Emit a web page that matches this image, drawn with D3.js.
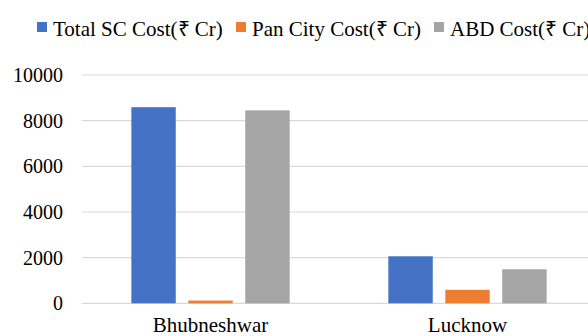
<!DOCTYPE html>
<html>
<head>
<meta charset="utf-8">
<script src="https://cdn.jsdelivr.net/npm/d3@7"></script>
<style>
  body { margin: 0; background: #fff; }
</style>
</head>
<body>
<div id="chart"></div>
<script>
// data
var cities = ["Bhubneshwar", "Lucknow"];
var seriesNames = ["Total SC Cost(₹ Cr)", "Pan City Cost(₹ Cr)", "ABD Cost(₹ Cr)"];
var totalCost = [8590, 2060];
var panCityCost = [120, 590];
var abdCost = [8450, 1490];
var yTicks = [0, 2000, 4000, 6000, 8000, 10000];
var colors = ["#4472c4", "#ed7d31", "#a5a5a5"];

var W = 588, H = 336;
var plot = { left: 82, right: 596, top: 75, bottom: 303.3 };
var serif = "'Liberation Serif', 'Times New Roman', serif";

var svg = d3.select("#chart")
    .append("svg")
    .attr("width", W)
    .attr("height", H)
    .attr("font-family", serif);

var rows = cities.map(function (c, i) {
    return { city: c, values: [totalCost[i], panCityCost[i], abdCost[i]] };
});

var x0 = d3.scaleBand()
    .domain(cities)
    .range([plot.left, plot.right])
    .padding(0);

var bw = x0.bandwidth();
var x1 = d3.scaleBand()
    .domain(seriesNames)
    .range([bw * 0.192, bw * 0.808])
    .paddingInner(0.22)
    .paddingOuter(0);

var y = d3.scaleLinear()
    .domain([0, 10000])
    .range([plot.bottom, plot.top]);

// gridlines
svg.append("g")
    .selectAll("line")
    .data(yTicks)
    .enter()
    .append("line")
    .attr("x1", plot.left)
    .attr("x2", W)
    .attr("y1", function (d) { return y(d); })
    .attr("y2", function (d) { return y(d); })
    .attr("stroke", "#d9d9d9")
    .attr("stroke-width", 1.2);

// y axis labels
var yAxis = svg.append("g")
    .attr("transform", "translate(" + plot.left + ",0)")
    .call(d3.axisLeft(y).tickValues(yTicks).tickSize(0).tickPadding(19).tickFormat(d3.format("d")));
yAxis.attr("font-family", serif).attr("font-size", 20);
yAxis.select(".domain").remove();
yAxis.selectAll("text")
    .style("font-family", serif)
    .style("font-size", "20px")
    .attr("fill", "#000");

// bars
var groups = svg.append("g")
    .selectAll("g")
    .data(rows)
    .enter()
    .append("g")
    .attr("transform", function (d) { return "translate(" + x0(d.city) + ",0)"; });

groups.selectAll("rect")
    .data(function (d) {
        return d.values.map(function (v, i) { return { key: seriesNames[i], value: v, i: i }; });
    })
    .enter()
    .append("rect")
    .attr("x", function (d) { return x1(d.key); })
    .attr("width", x1.bandwidth())
    .attr("y", function (d) { return y(d.value); })
    .attr("height", function (d) { return y(0) - y(d.value); })
    .attr("fill", function (d) { return colors[d.i]; });

// x axis labels
var xAxis = svg.append("g")
    .attr("transform", "translate(0," + plot.bottom + ")")
    .call(d3.axisBottom(x0).tickSize(0).tickPadding(14));
xAxis.attr("font-family", serif).attr("font-size", 21);
xAxis.select(".domain").remove();
xAxis.selectAll("text")
    .style("font-family", serif)
    .style("font-size", "21px")
    .attr("fill", "#000");

// legend
var legendX = [37, 236, 434];
var legend = svg.append("g")
    .selectAll("g")
    .data(seriesNames)
    .enter()
    .append("g")
    .attr("transform", function (d, i) { return "translate(" + legendX[i] + ",22)"; });

legend.append("rect")
    .attr("width", 10)
    .attr("height", 10)
    .attr("fill", function (d, i) { return colors[i]; });

legend.append("text")
    .attr("x", 16)
    .attr("y", 14)
    .style("font-family", serif)
    .style("font-size", "21px")
    .attr("fill", "#000")
    .text(function (d) { return d; });
</script>
</body>
</html>
